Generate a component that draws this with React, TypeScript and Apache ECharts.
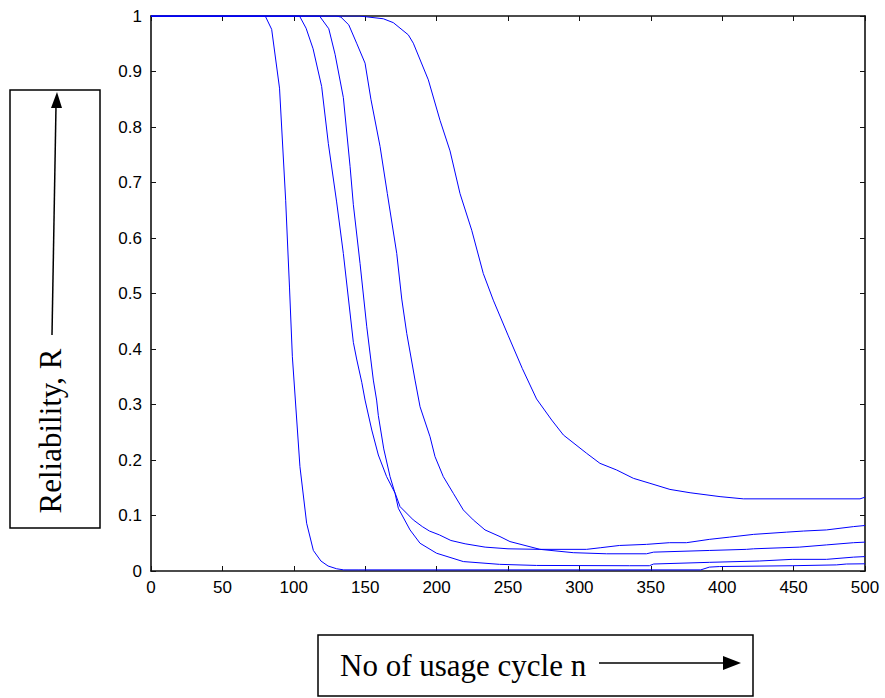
import React, { useEffect, useRef } from "react";
import * as echarts from "echarts";

const xTicks = [0, 50, 100, 150, 200, 250, 300, 350, 400, 450, 500];
const yTicks = [0, 0.1, 0.2, 0.3, 0.4, 0.5, 0.6, 0.7, 0.8, 0.9, 1];

const curveA: [number, number][] = [
  [0, 1], [80, 1], [84.5, 0.976], [90, 0.87], [94.3, 0.668], [97, 0.51], [99, 0.386],
  [104.3, 0.188], [109, 0.086], [113.7, 0.037], [119, 0.018], [124, 0.009], [130, 0.004],
  [135, 0.002], [145, 0.002], [385, 0.002], [391, 0.007], [398, 0.008], [449, 0.0095],
  [480, 0.011], [487, 0.0126], [500, 0.013],
];
const curveB: [number, number][] = [
  [0, 1], [104, 1], [108.6, 0.978], [113.5, 0.941], [119.5, 0.873], [124.2, 0.77],
  [130, 0.665], [134.7, 0.572], [141.7, 0.412], [144, 0.382], [147.6, 0.34],
  [149.9, 0.308], [154.6, 0.254], [159.2, 0.209], [165, 0.17], [171, 0.14], [174.4, 0.116],
  [183.7, 0.092], [190, 0.08], [195, 0.072], [202, 0.065], [210, 0.055], [220, 0.049],
  [234, 0.043], [250, 0.04], [272, 0.039], [305, 0.039], [315, 0.042], [328, 0.046],
  [347, 0.048], [363, 0.051], [375, 0.051], [391, 0.057], [405, 0.061], [422, 0.066],
  [445, 0.07], [457, 0.072], [473, 0.074], [492, 0.08], [500, 0.082],
];
const curveC: [number, number][] = [
  [0, 1], [118, 1], [124.5, 0.977], [128.9, 0.931], [134.7, 0.853], [139.4, 0.729],
  [141.7, 0.66], [146.4, 0.554], [151.1, 0.44], [155.7, 0.344], [158, 0.308], [159.2, 0.28],
  [163, 0.22], [167.4, 0.17], [170.9, 0.14], [173.2, 0.113], [181.4, 0.074], [188.4, 0.05],
  [200, 0.032], [218.7, 0.017], [244, 0.012], [270, 0.01], [335, 0.0095], [349, 0.0095],
  [352, 0.0126], [391, 0.0156], [426, 0.018], [449, 0.021], [473, 0.021], [492, 0.025],
  [500, 0.026],
];
const curveD: [number, number][] = [
  [0, 1], [130, 1], [133, 0.998], [138.5, 0.984], [144, 0.951], [149.9, 0.915], [154, 0.85],
  [160.4, 0.765], [165.5, 0.68], [172.1, 0.572], [175.6, 0.49], [179.1, 0.428], [184.9, 0.344],
  [188.4, 0.296], [195.4, 0.242], [198.9, 0.206], [204.7, 0.17], [211.7, 0.14], [218.7, 0.11],
  [225.7, 0.092], [233.9, 0.074], [244.4, 0.062], [251.4, 0.053], [272.4, 0.039],
  [295.7, 0.033], [319, 0.031], [347, 0.031], [352, 0.034], [391, 0.037], [417, 0.039],
  [422, 0.04], [454, 0.043], [473, 0.047], [492, 0.051], [500, 0.052],
];
const curveE: [number, number][] = [
  [0, 1], [146, 1], [162.7, 0.995], [169.7, 0.988], [180.2, 0.966], [183.7, 0.951],
  [194.2, 0.885], [202.4, 0.812], [209.4, 0.757], [216.4, 0.68], [224.6, 0.614],
  [232.7, 0.536], [239.7, 0.488], [250, 0.425], [260, 0.365], [270, 0.31], [280.6, 0.272],
  [288.8, 0.245], [305.1, 0.212], [314.4, 0.194], [326.1, 0.182], [337.8, 0.167],
  [349.4, 0.158], [363.4, 0.147], [377.5, 0.141], [398.5, 0.134], [414.8, 0.13],
  [496.5, 0.13], [500, 0.133],
];
const curves = [curveA, curveB, curveC, curveD, curveE];

const yTitle = "Reliability, R";
const xTitle = "No of usage cycle n";

export default function App() {
  const ref = useRef<HTMLDivElement>(null);
  useEffect(() => {
    if (!ref.current) return;
    const chart = echarts.init(ref.current, null, { renderer: "svg" });
    const axisLine = { show: true, onZero: false, lineStyle: { color: "#111", width: 1.6 } };
    const tick = { show: true, inside: true, length: 5, lineStyle: { color: "#111", width: 1 } };
    const labelFont = { fontFamily: "Liberation Sans", fontSize: 17, color: "#000" };
    chart.setOption({
      animation: false,
      backgroundColor: "#fff",
      grid: { left: 151, top: 16, right: 20, bottom: 127, containLabel: false },
      xAxis: [
        {
          type: "value", min: 0, max: 500, interval: 50, position: "bottom",
          axisLine, axisTick: tick, splitLine: { show: false },
          axisLabel: { ...labelFont, margin: 8, formatter: (v: number) => (xTicks.includes(v) ? String(v) : "") },
        },
        {
          type: "value", min: 0, max: 500, interval: 50, position: "top",
          axisLine, axisTick: tick, splitLine: { show: false }, axisLabel: { show: false },
        },
      ],
      yAxis: [
        {
          type: "value", min: 0, max: 1, interval: 0.1, position: "left",
          axisLine, axisTick: tick, splitLine: { show: false },
          axisLabel: {
            ...labelFont, margin: 9,
            formatter: (v: number) => {
              const t = yTicks.find((y) => Math.abs(y - v) < 1e-9);
              return t === undefined ? "" : String(t);
            },
          },
        },
        {
          type: "value", min: 0, max: 1, interval: 0.1, position: "right",
          axisLine, axisTick: tick, splitLine: { show: false }, axisLabel: { show: false },
        },
      ],
      series: curves.map((c, i) => ({
        name: "R" + (i + 1),
        type: "line",
        data: c,
        showSymbol: false,
        symbol: "none",
        smooth: false,
        clip: true,
        lineStyle: { color: "#0000ff", width: 1 },
      })),
      graphic: [
        { type: "rect", shape: { x: 10, y: 90, width: 90, height: 438 }, style: { fill: "#fff", stroke: "#000", lineWidth: 1.5 } },
        {
          type: "text", x: 50, y: 431, rotation: Math.PI / 2,
          style: { text: yTitle, font: '31px "Liberation Serif"', fill: "#000", textAlign: "center", textVerticalAlign: "middle" },
        },
        { type: "line", shape: { x1: 52, y1: 335, x2: 56, y2: 106 }, style: { stroke: "#000", lineWidth: 1.5 } },
        { type: "polygon", shape: { points: [[57, 92], [51, 108], [62, 108]] }, style: { fill: "#000" } },
        { type: "rect", shape: { x: 318, y: 635, width: 435, height: 61 }, style: { fill: "#fff", stroke: "#000", lineWidth: 1.5 } },
        {
          type: "text", x: 340, y: 665,
          style: { text: xTitle, font: '31px "Liberation Serif"', fill: "#000", textAlign: "left", textVerticalAlign: "middle" },
        },
        { type: "line", shape: { x1: 599, y1: 663, x2: 726, y2: 663 }, style: { stroke: "#000", lineWidth: 1.5 } },
        { type: "polygon", shape: { points: [[741, 663], [723, 656], [723, 670]] }, style: { fill: "#000" } },
      ],
    });
    return () => chart.dispose();
  }, []);
  return (
    <div
      ref={ref}
      style={{ position: "absolute", left: 0, top: 0, width: 885, height: 698, background: "#fff" }}
    />
  );
}
